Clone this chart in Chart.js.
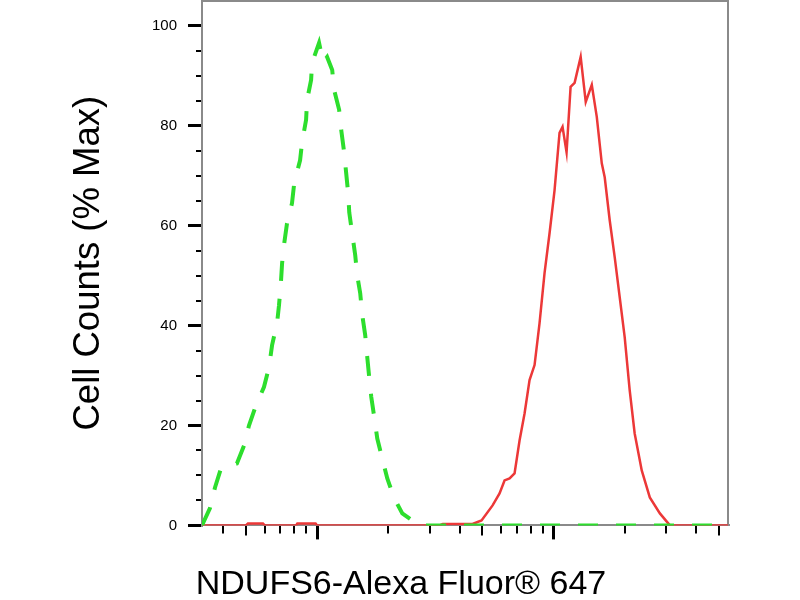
<!DOCTYPE html>
<html>
<head>
<meta charset="utf-8">
<script src="https://cdn.jsdelivr.net/npm/chart.js@4.4.1/dist/chart.umd.min.js"></script>
<style>
  html, body { margin: 0; padding: 0; background: #fff; }
  #wrap { width: 800px; height: 600px; }
</style>
</head>
<body>
<div id="wrap"><canvas id="histChart"></canvas></div>
<script>
// isotype control (green dashed)
const controlX = [326, 352, 370, 392, 458, 491, 515, 551, 596, 626, 645, 677, 690, 703, 711, 724, 746, 783, 800, 847, 863, 898, 907, 943, 952, 1019, 1060, 1102, 1158, 1180, 1239, 1264, 1301, 1327, 1353, 1367, 1406, 1449, 1477, 1521, 1552, 1597, 1629, 1660, 1694, 1745, 1796, 1885, 1980, 2120, 2291, 2705, 54600];
const controlY = [0, 3.4, 7.6, 11.4, 12.4, 16.0, 20.0, 24.0, 27.7, 31.7, 36.1, 40.5, 44.1, 48.7, 52.5, 56.1, 60.5, 64.5, 68.5, 73.1, 76.6, 81.2, 85.2, 89.2, 92.6, 96.6, 92.8, 93.8, 91.2, 87.2, 83.2, 79.2, 74.7, 70.5, 66.5, 62.7, 58.5, 54.1, 50.1, 46.5, 42.1, 38.1, 33.7, 29.7, 25.7, 21.6, 17.4, 13.4, 9.4, 5.4, 2.4, 0, 0];

// NDUFS6 stained sample (red)
const sampleX = [326, 500, 510, 590, 600, 815, 825, 985, 1000, 3300, 3400, 4400, 4539, 4955, 5520, 5906, 6200, 6511, 6835, 7176, 7534, 7909, 8304, 8718, 9152, 9609, 10088, 10590, 10905, 11341, 11794, 12265, 13010, 13668, 14497, 15219, 15977, 16441, 17260, 18120, 19023, 19970, 20965, 22010, 23577, 25502, 28135, 31012, 41584, 54600];
const sampleY = [0, 0, 0.4, 0.4, 0, 0, 0.4, 0.4, 0, 0, 0.3, 0.3, 0.3, 1.0, 4.0, 6.4, 9.0, 9.4, 10.4, 17.0, 22.4, 29.1, 32.1, 40.5, 50.5, 58.5, 67.1, 78.6, 79.8, 74.7, 87.8, 88.6, 93.8, 84.8, 88.2, 81.8, 72.5, 69.7, 61.1, 53.7, 45.7, 37.7, 27.1, 18.4, 11.0, 5.6, 2.4, 0, 0, 0];

// axis ticks
const yMajorTicks = [0, 20, 40, 60, 80, 100];
const yMinorTicks = [5, 10, 15, 25, 30, 35, 45, 50, 55, 65, 70, 75, 85, 90, 95];
const xMajorTicks = [1000, 10000];
const xMidTicks = [500, 5000, 50000];
const xMinorTicks = [400, 600, 700, 800, 900, 2000, 3000, 4000, 6000, 7000, 8000, 9000, 20000, 30000, 40000];

const X_MIN = 326, X_MAX = 54600;
const Y_MIN = 0, Y_MAX = 105;

const FONT = "'Liberation Sans', Arial, Helvetica, sans-serif";
const AXIS_GREY = '#8a8a8a';

const toPoints = (xs, ys) => xs.map((x, i) => ({ x: x, y: ys[i] }));

// no extra room for half tick labels at the ends of an axis
function noPad(s) {
  s.paddingTop = 0; s.paddingBottom = 0; s.paddingLeft = 0; s.paddingRight = 0;
}

// an axis that only draws tick marks at the given values
function tickOnly(type, position, values, len, width, extra) {
  const horiz = position === 'bottom' || position === 'top';
  return Object.assign({
    type: type,
    position: position,
    afterBuildTicks: s => { s.ticks = values.map(v => ({ value: v })); },
    afterFit: s => { if (horiz) s.height = 0; else s.width = 0; noPad(s); },
    ticks: { display: false },
    grid: { drawOnChartArea: false, tickLength: len, lineWidth: width, tickWidth: width, tickColor: '#000' },
    border: { color: AXIS_GREY, width: 2 }
  }, extra);
}

function frameOnly(position, extra) {
  const horiz = position === 'top';
  return Object.assign({
    type: 'linear',
    position: position,
    min: 0, max: 1,
    afterFit: s => { if (horiz) s.height = 0; else s.width = 0; noPad(s); },
    ticks: { display: false },
    grid: { drawOnChartArea: false, drawTicks: false },
    border: { color: AXIS_GREY, width: 2 }
  }, extra);
}

new Chart(document.getElementById('histChart'), {
  type: 'line',
  data: {
    datasets: [
      {
        label: 'Isotype control',
        data: toPoints(controlX, controlY),
        borderColor: 'rgb(45, 222, 45)',
        borderWidth: 4,
        borderDash: [20, 18],
        pointRadius: 0,
        tension: 0,
        fill: false
      },
      {
        label: 'NDUFS6',
        data: toPoints(sampleX, sampleY),
        borderColor: 'rgb(236, 56, 56)',
        borderWidth: 2.5,
        pointRadius: 0,
        tension: 0,
        fill: false
      }
    ]
  },
  options: {
    responsive: true,
    maintainAspectRatio: false,
    animation: false,
    events: [],
    layout: { padding: { left: 74, right: 72, top: 1, bottom: 0 } },
    scales: {
      x: tickOnly('logarithmic', 'bottom', xMajorTicks, 14, 3, { min: X_MIN, max: X_MAX }),
      xMid: tickOnly('logarithmic', 'bottom', xMidTicks, 10, 2, { min: X_MIN, max: X_MAX }),
      xMinor: tickOnly('logarithmic', 'bottom', xMinorTicks, 8, 2, { min: X_MIN, max: X_MAX }),
      xTop: frameOnly('top'),
      y: {
        type: 'linear',
        position: 'left',
        weight: 1,
        min: Y_MIN,
        max: Y_MAX,
        afterBuildTicks: s => { s.ticks = yMajorTicks.map(v => ({ value: v })); },
        afterFit: s => { s.width = 128; noPad(s); },
        ticks: { color: '#000', padding: 11, font: { family: FONT, size: 15 } },
        grid: { drawOnChartArea: false, tickLength: 14, lineWidth: 3, tickWidth: 3, tickColor: '#000' },
        border: { color: AXIS_GREY, width: 2 },
        title: {
          display: true,
          text: 'Cell Counts (% Max)',
          color: '#000',
          padding: { top: -7, bottom: 0 },
          font: { family: FONT, size: 36.5, weight: 'normal' }
        }
      },
      yMinor: tickOnly('linear', 'left', yMinorTicks, 6, 2, { min: Y_MIN, max: Y_MAX, weight: 0 }),
      yRight: frameOnly('right')
    },
    plugins: {
      legend: { display: false },
      tooltip: { enabled: false },
      title: {
        display: true,
        position: 'bottom',
        text: 'NDUFS6-Alexa Fluor® 647',
        color: '#000',
        padding: { top: 44, bottom: 0 },
        font: { family: FONT, size: 34, weight: 'normal', lineHeight: 0.9 }
      }
    }
  }
});
</script>
</body>
</html>
